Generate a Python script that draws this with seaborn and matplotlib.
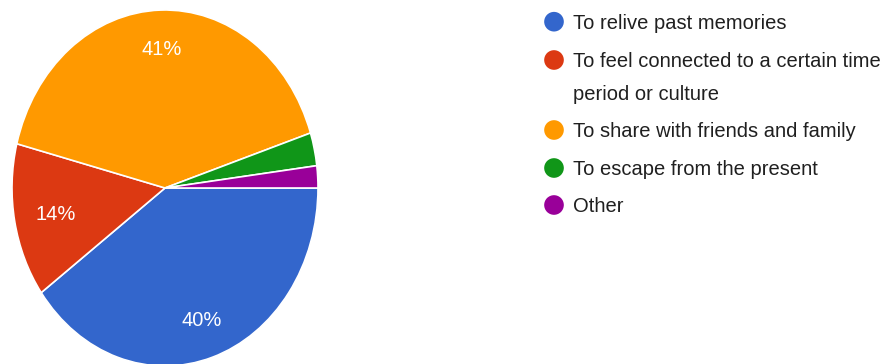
import matplotlib
matplotlib.use("Agg")
import matplotlib.pyplot as plt
import seaborn as sns

categories = [
    "To relive past memories",
    "To feel connected to a certain time\nperiod or culture",
    "To share with friends and family",
    "To escape from the present",
    "Other",
]
values = [40, 14, 41, 3, 2]
colors = ["#3366CC", "#DC3912", "#FF9900", "#109618", "#990099"]

sns.set_theme(style="white")
plt.rcParams["font.family"] = ["Liberation Sans", "DejaVu Sans"]

W, H = 885, 364
fig = plt.figure(figsize=(W / 100, H / 100), dpi=100)
fig.patch.set_facecolor("white")

# pie axes (stretched vertically like the reference)
cx, cy, rx, ry = 165, 188, 153, 178
ax = fig.add_axes([(cx - rx) / W, (H - (cy + ry)) / H, 2 * rx / W, 2 * ry / H])


def fmt(p):
    return f"{p:.0f}%" if p >= 5 else ""


wedges, texts, autotexts = ax.pie(
    values,
    colors=colors,
    startangle=0,
    counterclock=False,
    autopct=fmt,
    pctdistance=0.78,
    wedgeprops=dict(edgecolor="white", linewidth=1.2),
    textprops=dict(color="white", fontsize=14.5),
)
# small nudge of the narrow red slice label toward the centre
x0, y0 = autotexts[1].get_position()
autotexts[1].set_position((x0 + 0.05, y0))
ax.set_aspect("auto")
ax.set_xlim(-1, 1)
ax.set_ylim(-1, 1)
ax.axis("off")

# legend
lax = fig.add_axes([0, 0, 1, 1])
lax.set_xlim(0, W)
lax.set_ylim(H, 0)
lax.axis("off")
ys = [21.7, 60, 130, 168, 205]
line_gap = 33
for y, lab, c in zip(ys, categories, colors):
    lax.scatter([554], [y], s=200, color=c, edgecolor="none", zorder=3)
    for i, line in enumerate(lab.split("\n")):
        lax.text(573, y + 7.2 + i * line_gap, line, fontsize=14.5,
                 color="#202020", va="baseline", ha="left")

fig.savefig("out.png", dpi=100, facecolor="white")
